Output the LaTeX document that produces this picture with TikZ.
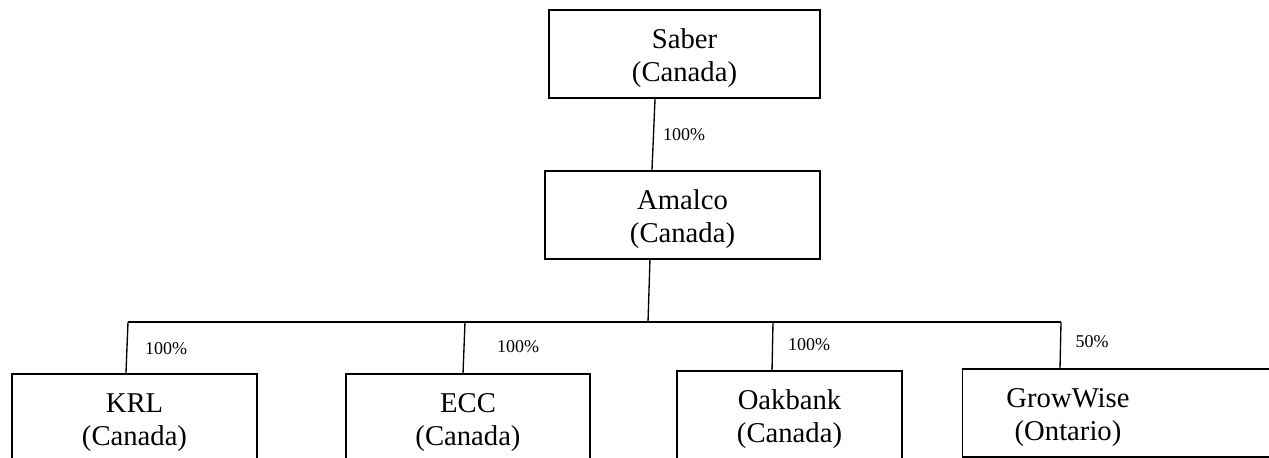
\documentclass[tikz,border=0pt]{standalone}
\usepackage{fontspec}
\setmainfont{Liberation Serif}
\usepackage{tikz}

% two-line firm label, lowered a little inside its box
\newcommand{\firm}[2]{\raisebox{-3pt}[\height][\depth]{\begin{tabular}{@{}c@{}}#1\\#2\end{tabular}}}

\begin{document}
\begin{tikzpicture}[x=0.75pt,y=-0.75pt,
        entity/.style={draw, line width=0.8pt, rectangle, minimum height=66pt,
            inner sep=0pt, font=\fontsize{21.5}{24.75}\selectfont},
        share/.style={font=\fontsize{13.5}{16}\selectfont},
        link/.style={line width=1pt},
        busline/.style={line width=1.6pt}]
        \useasboundingbox (0,0) rectangle (1269,457);
        \clip (0,0) rectangle (1269,457);
        % parent and amalgamated company
        \node[entity, minimum width=203.25pt] (saber) at (684.5,54) {\firm{Saber}{(Canada)}};
        \node[entity, minimum width=206.25pt] (amalco) at (682.5,215) {\firm{Amalco}{(Canada)}};
        % subsidiaries (bottom edges run off the page)
        \node[entity, minimum width=183.75pt] (krl) at (134.5,418) {\firm{KRL}{(Canada)}};
        \node[entity, minimum width=183pt] (ecc) at (468,418) {\firm{ECC}{(Canada)}};
        \node[entity, minimum width=168.75pt] (oak) at (789.5,415) {\firm{Oakbank}{(Canada)}};
        \node[entity, minimum width=246pt, anchor=west] (grow) at (962,413) {};
        \node[entity, draw=none] (growtxt) at (1068,413) {\firm{GrowWise}{(Ontario)}};
        % bus taps
        \coordinate (tkrl) at (128,322);
        \coordinate (tecc) at (465,322);
        \coordinate (tamal) at (648,322);
        \coordinate (toak) at (773,322);
        \coordinate (tgrow) at (1061,322);
        % connectors
        \draw[link] ([xshift=-22.1pt]saber.south) -- ([xshift=-22.9pt]amalco.north);
        \draw[link] ([xshift=-24.4pt]amalco.south) -- (tamal);
        \draw[busline] (tkrl) -- (tgrow);
        \draw[link] (tkrl) -- ([xshift=-6.4pt]krl.north);
        \draw[link] (tecc) -- ([xshift=-3.75pt]ecc.north);
        \draw[link] (toak) -- ([xshift=-13.1pt]oak.north);
        \draw[link] (tgrow) -- ([xshift=-0.75pt]tgrow |- grow.north);
        % shareholdings
        \node[share] (pamal) at (684,135) {100\%};
        \node[share] (pkrl) at (166,349) {100\%};
        \node[share] (pecc) at (518,347) {100\%};
        \node[share] (poak) at (809,345) {100\%};
        \node[share] (pgrow) at (1092,342) {50\%};
    \end{tikzpicture}
\end{document}
